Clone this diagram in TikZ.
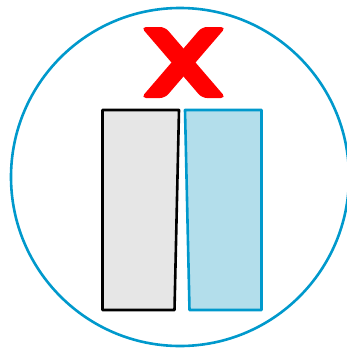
\documentclass[tikz,border=0pt]{standalone}
\usepackage{tikz}
\usetikzlibrary{calc}
\usepackage{xcolor}
\definecolor{ringblue}{RGB}{0,153,204}
\definecolor{paleblue}{RGB}{179,222,235}
\definecolor{palegray}{RGB}{230,230,230}
\definecolor{crossred}{RGB}{255,0,0}

\begin{document}
\begin{tikzpicture}[x=1pt, y=-1pt,
    ring/.style={draw=ringblue, line width=2.6pt},
    slab/.style={line width=2.6pt, line join=round},
    crossbar/.style={fill=crossred, rounded corners=5pt}]
\useasboundingbox (0,0) rectangle (347,351);
% outer ring
\draw[ring] (180,177) circle (169);
% the two slabs
\draw[slab, draw=black, fill=palegray] (102.5,110) -- (179,110) -- (174.5,310) -- (102.5,310) -- cycle;
\draw[slab, draw=ringblue, fill=paleblue] (185,110) -- (261.5,110) -- (261.5,310) -- (189.5,310) -- cycle;
% red cross
\fill[crossbar] (141,27) -- (165,27) -- (226,98) -- (202,98) -- cycle;
\fill[crossbar] (202,27) -- (226,27) -- (165,98) -- (141,98) -- cycle;
\end{tikzpicture}
\end{document}
